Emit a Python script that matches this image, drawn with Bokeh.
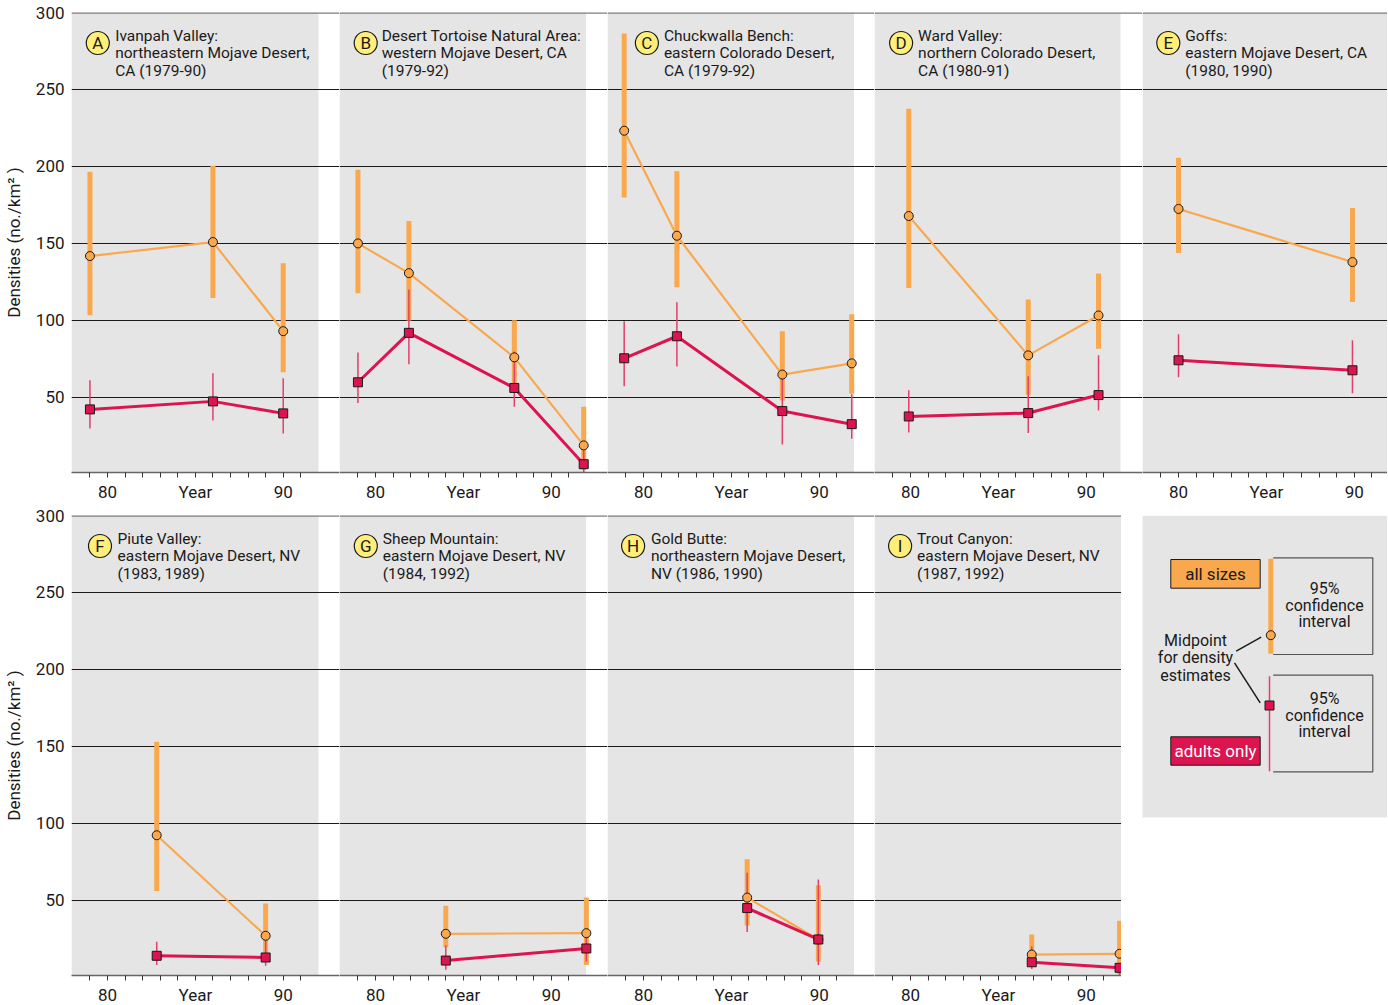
from bokeh.plotting import figure
from bokeh.models import Range1d, FixedTicker, Span, ColumnDataSource
from bokeh.layouts import row, column
from bokeh.embed import file_html
from bokeh.resources import INLINE
from bokeh.core.properties import value

# ---------------- data ----------------
letters = ["A", "B", "C", "D", "E", "F", "G", "H", "I"]
titles = [
    ["Ivanpah Valley:", "northeastern Mojave Desert,", "CA (1979-90)"],
    ["Desert Tortoise Natural Area:", "western Mojave Desert, CA", "(1979-92)"],
    ["Chuckwalla Bench:", "eastern Colorado Desert,", "CA (1979-92)"],
    ["Ward Valley:", "northern Colorado Desert,", "CA (1980-91)"],
    ["Goffs:", "eastern Mojave Desert, CA", "(1980, 1990)"],
    ["Piute Valley:", "eastern Mojave Desert, NV", "(1983, 1989)"],
    ["Sheep Mountain:", "eastern Mojave Desert, NV", "(1984, 1992)"],
    ["Gold Butte:", "northeastern Mojave Desert,", "NV (1986, 1990)"],
    ["Trout Canyon:", "eastern Mojave Desert, NV", "(1987, 1992)"],
]
years = [
    [79, 86, 90],
    [79, 81.9, 87.9, 91.85],
    [78.9, 81.9, 87.9, 91.85],
    [79.9, 86.7, 90.7],
    [80, 89.9],
    [82.8, 89],
    [84, 92],
    [85.9, 89.95],
    [86.9, 91.9],
]
all_mid = [
    [141.8, 150.9, 93.0],
    [150.0, 130.7, 76.0, 18.8],
    [223.2, 155.0, 64.8, 72.1],
    [167.8, 77.3, 103.2],
    [172.4, 137.9],
    [92.3, 27.0],
    [28.3, 28.7],
    [51.8, 24.6],
    [14.8, 15.3],
]
all_lo = [
    [103.4, 114.5, 66.3],
    [117.7, 100.0, 57.0, 3.0],
    [179.8, 121.6, 48.0, 52.3],
    [121.0, 51.6, 81.6],
    [143.8, 111.9],
    [56.1, 14.0],
    [19.6, 8.0],
    [33.7, 10.3],
    [7.0, 2.0],
]
all_hi = [
    [196.6, 200.5, 137.2],
    [197.8, 164.6, 100.1, 43.9],
    [286.3, 196.9, 93.0, 104.0],
    [237.5, 113.5, 130.5],
    [205.6, 173.0],
    [153.1, 48.0],
    [46.5, 51.8],
    [76.7, 59.8],
    [27.9, 36.8],
]
adult_mid = [
    [42.2, 47.4, 39.6],
    [59.8, 91.9, 56.1, 6.6],
    [75.4, 89.7, 41.1, 32.6],
    [37.6, 39.8, 51.5],
    [74.1, 67.6],
    [14.0, 12.9],
    [10.9, 18.75],
    [45.0, 24.6],
    [9.8, 6.2],
]
adult_lo = [
    [29.8, 35.0, 26.6],
    [46.4, 71.5, 43.9, 1.5],
    [57.2, 70.1, 19.4, 23.1],
    [27.2, 26.9, 41.5],
    [63.0, 52.6],
    [8.1, 7.5],
    [5.0, 10.3],
    [29.4, 8.1],
    [5.5, 1.5],
]
adult_hi = [
    [61.1, 65.6, 62.4],
    [79.1, 120.0, 79.8, 15.5],
    [99.5, 111.8, 64.0, 52.0],
    [54.6, 63.8, 77.3],
    [91.0, 87.1],
    [23.1, 26.1],
    [20.7, 26.1],
    [68.0, 63.5],
    [20.0, 7.7],
]
x_ticks = list(range(79, 92))
x_tick_labels = {80: "80", 85: "Year", 90: "90"}
y_ticks = [50, 100, 150, 200, 250, 300]

# ---------------- style ----------------
GRAY = "#E5E5E5"
ORANGE = "#F9A84D"
RED = "#DC1450"
RED_CI = "#E2406C"
INK = "#1a1a1a"
YELLOW = "#FFEF7A"
FONT = "Roboto"

PXY = 17.57          # pixels per year
X0 = 77.95
YB, YT = 1.2, 300.0
FH = 460
PYU = FH / (YT - YB)
TOP = [12, 11]
BOTTOM = [30, 28]

frame_w = [268, 268, 267, 268, 245, 268, 268, 267, 247]
gray_w = [247, 246.5, 246.5, 246, 245, 247, 246.5, 246.5, 247]
letter_dx = [26.3, 26.2, 39.4, 26.6, 25.8, 28.5, 26.3, 25.6, 25.6]
text_dx = [43.7, 42.2, 56.4, 43.6, 42.8, 46.0, 43.2, 43.4, 42.6]


def X(px):
    return X0 + px / PXY


def Y(py):
    return YT - py / PYU


def make_panel(k):
    rowi = 0 if k < 5 else 1
    first = k in (0, 5)
    fw = frame_w[k]
    p = figure(frame_width=fw, frame_height=FH,
               x_range=Range1d(X0, X0 + fw / PXY), y_range=Range1d(YB, YT),
               output_backend="svg", toolbar_location=None, tools="",
               x_axis_location="below", y_axis_location="left" if first else None,
               min_border_left=64 if first else 0, min_border_right=0,
               min_border_top=TOP[rowi], min_border_bottom=BOTTOM[rowi],
               outline_line_color=None, background_fill_color="white",
               border_fill_color="white")
    p.quad(left=[X0], right=[X(gray_w[k])], bottom=[YB], top=[YT],
           fill_color=GRAY, line_color=None, level="image")
    p.xgrid.visible = False
    p.ygrid.ticker = FixedTicker(ticks=[t for t in y_ticks if t < 300])
    p.ygrid.grid_line_color = INK
    p.ygrid.grid_line_width = 1
    p.add_layout(Span(location=300, dimension="width", line_color="#7c7c7c",
                      line_width=2.5, level="underlay"))

    ax = p.xaxis[0]
    ax.ticker = FixedTicker(ticks=x_ticks)
    ax.major_label_overrides = {t: x_tick_labels.get(t, "") for t in x_ticks}
    ax.axis_line_color = "#666666"
    ax.axis_line_width = 1.6
    ax.major_tick_line_color = "#333333"
    ax.major_tick_out = 5
    ax.major_tick_in = 0
    ax.minor_tick_line_color = None
    ax.major_label_standoff = 4
    ax.major_label_text_font = FONT
    ax.major_label_text_font_size = "17px"
    ax.major_label_text_color = INK

    if first:
        ya = p.yaxis[0]
        ya.ticker = FixedTicker(ticks=y_ticks)
        ya.axis_line_color = None
        ya.major_tick_line_color = None
        ya.minor_tick_line_color = None
        ya.major_tick_out = 0
        ya.major_label_standoff = 7
        ya.major_label_text_font = FONT
        ya.major_label_text_font_size = "17px"
        ya.major_label_text_color = INK
        ya.axis_label = "Densities (no./km\u00b2 )"
        ya.axis_label_text_font = FONT
        ya.axis_label_text_font_size = "17px"
        ya.axis_label_text_font_style = "normal"
        ya.axis_label_text_color = INK
        ya.axis_label_standoff = 9

    s_all = ColumnDataSource(dict(x=years[k], y=all_mid[k], lo=all_lo[k], hi=all_hi[k]))
    s_ad = ColumnDataSource(dict(x=years[k], y=adult_mid[k], lo=adult_lo[k], hi=adult_hi[k]))
    p.segment(x0="x", y0="lo", x1="x", y1="hi", source=s_all, line_color=ORANGE, line_width=5)
    p.line("x", "y", source=s_all, line_color=ORANGE, line_width=2.2)
    p.segment(x0="x", y0="lo", x1="x", y1="hi", source=s_ad, line_color=RED_CI, line_width=1.5)
    p.line("x", "y", source=s_ad, line_color=RED, line_width=3)
    p.scatter("x", "y", source=s_all, marker="circle", size=9, fill_color=ORANGE,
              line_color=INK, line_width=1)
    p.scatter("x", "y", source=s_ad, marker="square", size=9, fill_color=RED,
              line_color=INK, line_width=1)

    # panel title
    lx, ly = X(letter_dx[k]), Y(30.5)
    p.scatter([lx], [ly], marker="circle", size=23, fill_color=YELLOW,
              line_color=INK, line_width=1.2)
    p.text([lx], [ly], text=[letters[k]], text_align="center", text_baseline="middle",
           text_font=value(FONT), text_font_size="17px", text_color=INK)
    tx = X(text_dx[k])
    p.text([tx] * 3, [Y(23), Y(40.5), Y(58)], text=titles[k], text_align="left",
           text_baseline="middle", text_font=value(FONT), text_font_size="15.5px",
           text_color=INK)
    return p


figs = [make_panel(k) for k in range(9)]

# ---------------- legend panel (pixel coordinates from its frame's top-left) ----------------
LW = 266
leg = figure(frame_width=LW, frame_height=FH, x_range=Range1d(0, LW), y_range=Range1d(FH, 0),
             output_backend="svg", toolbar_location=None, tools="",
             x_axis_location=None, y_axis_location=None,
             min_border_left=0, min_border_right=0, min_border_top=TOP[1],
             min_border_bottom=BOTTOM[1],
             outline_line_color=None, background_fill_color="white", border_fill_color="white")
leg.grid.visible = False
leg.quad(left=[21], right=[266], top=[0], bottom=[302], fill_color=GRAY, line_color=None)
# boxes
leg.quad(left=[49.3], right=[138.7], top=[44], bottom=[72.7], fill_color=ORANGE,
         line_color=INK, line_width=1)
leg.quad(left=[49.3], right=[138.7], top=[221.3], bottom=[249.7], fill_color=RED,
         line_color=INK, line_width=1)
leg.text([94], [58.5], text=["all sizes"], text_align="center", text_baseline="middle",
         text_font=value(FONT), text_font_size="17px", text_color=INK)
leg.text([94], [235.5], text=["adults only"], text_align="center", text_baseline="middle",
         text_font=value(FONT), text_font_size="17px", text_color="white")
# bracket frames
leg.multi_line(xs=[[151.7, 251.3, 251.3, 151.7], [151.7, 251.3, 251.3, 151.7]],
               ys=[[42.3, 42.3, 139, 139], [159.7, 159.7, 256.3, 256.3]],
               line_color="#555555", line_width=1.2)
leg.segment(x0=[149.3], y0=[43.3], x1=[149.3], y1=[138.3], line_color=ORANGE, line_width=5)
leg.segment(x0=[148], y0=[160.7], x1=[148], y1=[255.7], line_color=RED_CI, line_width=1.5)
leg.scatter([149.3], [119.7], marker="circle", size=9, fill_color=ORANGE, line_color=INK, line_width=1)
leg.scatter([148], [190], marker="square", size=9, fill_color=RED, line_color=INK, line_width=1)
ci_lines = ["95%", "confidence", "interval"]
leg.text([203] * 3, [73.3, 89.7, 105.5], text=ci_lines, text_align="center",
         text_baseline="middle", text_font=value(FONT), text_font_size="16px", text_color=INK)
leg.text([203] * 3, [183.3, 199.7, 216], text=ci_lines, text_align="center",
         text_baseline="middle", text_font=value(FONT), text_font_size="16px", text_color=INK)
leg.text([74] * 3, [124.7, 142.3, 159.5], text=["Midpoint", "for density", "estimates"],
         text_align="center", text_baseline="middle", text_font=value(FONT),
         text_font_size="16px", text_color=INK)
leg.multi_line(xs=[[114.7, 139.7], [113, 138.7]], ys=[[135.7, 121.7], [147.3, 187.3]],
               line_color=INK, line_width=1.5)

layout = column(row(*figs[:5], spacing=0), row(*figs[5:], leg, spacing=0), spacing=0)
open("out.html", "w").write(file_html(layout, INLINE))
